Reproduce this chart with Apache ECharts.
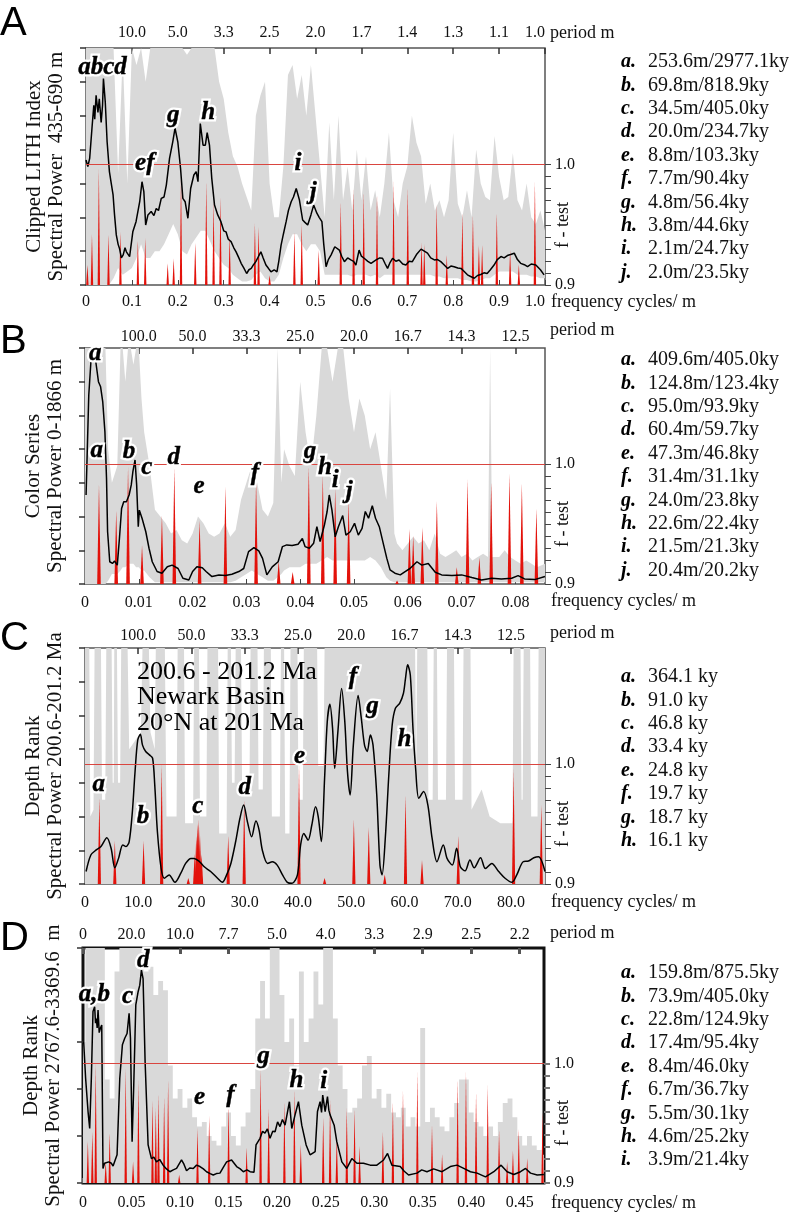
<!DOCTYPE html>
<html><head><meta charset="utf-8">
<script src="https://cdn.jsdelivr.net/npm/echarts@6/dist/echarts.min.js"></script>
<style>html,body{margin:0;padding:0;background:#fff}#c{width:799px;height:1215px}</style>
</head><body><div id="c"></div>
<script>
// ---------------- DATA ----------------
const fTestTicks = [0.90,0.91,0.92,0.93,0.94,0.95,0.96,0.97,0.98,0.99,1.00];
const fTestLabels = [0.9, 1.0];
const sigLevel = 1.0;
const powerTicks7 = [0,1,2,3,4,5,6,7];
const powerTicks5 = [0,1,2,3,4,5];

// Panel A
const freqTicksA = [0,0.1,0.2,0.3,0.4,0.5,0.6,0.7,0.8,0.9,1.0];
const freqLabelsA = ['0','0.1','0.2','0.3','0.4','0.5','0.6','0.7','0.8','0.9','1.0'];
const periodTicksA = [0.1,0.2,0.3,0.4,0.5,0.6,0.7,0.8,0.9,1.0];
const periodLabelsA = ['10.0','5.0','3.3','2.5','2.0','1.7','1.4','1.3','1.1','1.0'];
const lineA = [[0,3.69],[0.004,3.5],[0.008,3.74],[0.013,4.63],[0.017,5.31],[0.019,4.9],[0.022,5.6],[0.026,5.1],[0.029,5.5],[0.033,4.8],[0.036,5.3],[0.038,6.1],[0.042,5.4],[0.046,4.23],[0.051,3.35],[0.055,3.0],[0.059,2.66],[0.062,2.1],[0.066,1.48],[0.070,1.2],[0.073,1.08],[0.077,0.8],[0.081,0.89],[0.085,1.1],[0.088,0.98],[0.095,0.84],[0.102,1.57],[0.109,1.87],[0.117,2.46],[0.122,3.05],[0.126,2.76],[0.130,1.77],[0.135,2.07],[0.142,2.17],[0.148,2.05],[0.153,2.26],[0.158,2.2],[0.164,2.56],[0.170,2.6],[0.175,2.95],[0.182,3.74],[0.189,4.23],[0.194,4.63],[0.200,4.23],[0.206,3.44],[0.211,2.56],[0.216,2.46],[0.222,1.97],[0.228,2.85],[0.235,3.25],[0.240,3.35],[0.244,3.05],[0.249,4.77],[0.255,4.13],[0.260,4.13],[0.264,4.5],[0.269,4.13],[0.274,3.15],[0.280,2.36],[0.287,2.07],[0.294,1.87],[0.300,1.6],[0.305,1.57],[0.310,1.35],[0.316,1.28],[0.322,1.1],[0.327,0.98],[0.333,0.8],[0.338,0.64],[0.344,0.5],[0.350,0.34],[0.355,0.45],[0.360,0.49],[0.365,0.6],[0.370,0.69],[0.376,0.85],[0.381,0.98],[0.386,0.8],[0.392,0.59],[0.397,0.5],[0.403,0.39],[0.410,0.45],[0.416,0.39],[0.420,0.7],[0.425,1.18],[0.430,1.5],[0.436,1.87],[0.441,2.2],[0.447,2.46],[0.452,2.6],[0.458,2.85],[0.465,2.51],[0.472,1.92],[0.477,1.85],[0.483,1.77],[0.490,2.07],[0.496,2.36],[0.503,2.12],[0.508,2.0],[0.514,1.87],[0.518,1.2],[0.523,0.54],[0.528,0.75],[0.534,0.89],[0.542,1.13],[0.552,1.03],[0.557,0.85],[0.563,0.69],[0.570,0.8],[0.577,0.74],[0.583,0.7],[0.588,0.59],[0.595,1.03],[0.600,0.85],[0.606,0.79],[0.614,0.7],[0.621,0.64],[0.632,0.74],[0.640,0.8],[0.646,0.79],[0.652,0.62],[0.657,0.49],[0.662,0.65],[0.668,0.79],[0.675,0.7],[0.682,0.74],[0.690,0.62],[0.697,0.59],[0.704,0.7],[0.711,0.69],[0.720,0.9],[0.730,1.06],[0.737,1.0],[0.744,0.94],[0.751,0.8],[0.759,0.74],[0.766,0.75],[0.773,0.69],[0.780,0.6],[0.788,0.49],[0.795,0.56],[0.802,0.54],[0.810,0.5],[0.817,0.49],[0.824,0.4],[0.831,0.30],[0.838,0.25],[0.846,0.20],[0.853,0.28],[0.860,0.31],[0.867,0.36],[0.874,0.34],[0.881,0.45],[0.889,0.59],[0.896,0.75],[0.904,0.84],[0.911,0.8],[0.918,0.87],[0.925,0.9],[0.933,0.94],[0.940,0.75],[0.947,0.64],[0.955,0.6],[0.962,0.54],[0.970,0.62],[0.980,0.59],[0.990,0.45],[0.998,0.30]];
const bandA = [[0,0,7.5],[0.01,0,7.5],[0.02,0,7.5],[0.03,0,7.5],[0.04,0,7.5],[0.05,0,7.5],[0.06,0.2,7.5],[0.07,0.5,3.3],[0.08,0.3,6.8],[0.09,0.4,3.0],[0.10,0.5,7.0],[0.11,0.8,6.5],[0.12,1.2,7.5],[0.13,0.8,6.0],[0.14,0.8,7.5],[0.15,1.0,7.5],[0.16,1.0,7.5],[0.17,1.2,7.5],[0.18,1.5,7.5],[0.19,1.8,7.5],[0.20,1.5,7.5],[0.21,1.0,7.5],[0.22,0.9,6.8],[0.23,1.2,7.5],[0.24,1.4,7.5],[0.25,1.6,7.5],[0.26,1.6,7.5],[0.27,1.3,7.5],[0.28,1.0,7.0],[0.29,0.8,6.0],[0.30,0.6,5.5],[0.31,0.5,4.5],[0.32,0.3,3.8],[0.33,0.2,3.5],[0.34,0.1,3.0],[0.35,0.1,2.6],[0.36,0.15,2.2],[0.37,0.3,5.0],[0.38,0.4,5.6],[0.39,0.2,6.0],[0.40,0.1,3.0],[0.41,0.1,2.0],[0.42,0.3,2.0],[0.43,0.8,3.5],[0.44,1.2,6.2],[0.45,1.5,6.5],[0.46,1.5,5.5],[0.47,1.2,6.2],[0.48,1.0,5.0],[0.49,1.2,6.5],[0.50,1.2,5.0],[0.51,1.0,3.5],[0.52,0.3,2.0],[0.53,0.3,4.8],[0.54,0.3,2.5],[0.55,0.3,5.0],[0.56,0.3,2.5],[0.57,0.3,3.5],[0.58,0.25,2.2],[0.59,0.3,4.0],[0.60,0.3,2.5],[0.61,0.3,3.8],[0.62,0.25,2.2],[0.63,0.3,2.8],[0.64,0.2,2.0],[0.65,0.3,3.0],[0.66,0.3,4.5],[0.67,0.3,2.5],[0.68,0.3,2.0],[0.69,0.3,3.0],[0.70,0.3,3.5],[0.71,0.3,5.0],[0.72,0.3,4.2],[0.73,0.3,3.8],[0.74,0.3,2.4],[0.75,0.3,3.0],[0.76,0.25,2.2],[0.77,0.25,2.5],[0.78,0.2,2.0],[0.79,0.2,2.5],[0.80,0.2,4.5],[0.81,0.2,2.4],[0.82,0.15,2.0],[0.83,0.15,2.8],[0.84,0.1,2.0],[0.85,0.1,4.0],[0.86,0.15,3.0],[0.87,0.2,2.6],[0.88,0.2,2.5],[0.89,0.3,4.4],[0.90,0.4,3.2],[0.91,0.4,2.5],[0.92,0.4,2.6],[0.93,0.4,3.9],[0.94,0.3,2.5],[0.95,0.3,2.2],[0.96,0.3,3.0],[0.97,0.25,2.0],[0.98,0.25,1.8],[0.99,0.2,2.2],[1.00,0.2,1.6]];
const spikesA = [[0.003,0.917],[0.013,0.942],[0.028,0.997],[0.049,0.942],[0.075,0.944],[0.113,0.937],[0.129,0.939],[0.178,0.918],[0.191,0.922],[0.207,0.99],[0.238,0.935],[0.262,0.986],[0.278,0.970],[0.293,0.973],[0.313,0.941],[0.368,0.951],[0.376,0.948],[0.400,0.908],[0.454,0.944],[0.470,0.951],[0.507,0.929],[0.555,0.969],[0.583,0.979],[0.605,0.977],[0.634,0.975],[0.670,0.986],[0.701,0.981],[0.731,0.935],[0.737,0.934],[0.764,0.967],[0.786,0.925],[0.820,0.960],[0.843,0.958],[0.856,0.933],[0.863,0.933],[0.895,0.960],[0.924,0.929],[0.943,0.917],[0.978,0.986]];
const peaksA = [['abcd',0.036,6.41],['ef',0.128,3.6],['g',0.19,5.0],['h',0.266,5.08],['i',0.462,3.6],['j',0.495,2.72]];
const nameA = 'Clipped LITH Index\nSpectral Power  435-690 m';
const legendA = [['a.','253.6m/2977.1ky'],['b.','69.8m/818.9ky'],['c.','34.5m/405.0ky'],['d.','20.0m/234.7ky'],['e.','8.8m/103.3ky'],['f.','7.7m/90.4ky'],['g.','4.8m/56.4ky'],['h.','3.8m/44.6ky'],['i.','2.1m/24.7ky'],['j.','2.0m/23.5ky']];

// Panel B
const freqTicksB = [0,0.01,0.02,0.03,0.04,0.05,0.06,0.07,0.08];
const freqLabelsB = ['0','0.01','0.02','0.03','0.04','0.05','0.06','0.07','0.08'];
const periodTicksB = [0.01,0.02,0.03,0.04,0.05,0.06,0.07,0.08];
const periodLabelsB = ['100.0','50.0','33.3','25.0','20.0','16.7','14.3','12.5'];
const lineB = [[0.0002,2.64],[0.0007,5.6],[0.0011,6.6],[0.0015,6.64],[0.002,6.6],[0.0025,6.0],[0.0029,5.85],[0.0033,5.4],[0.0037,4.52],[0.004,3.13],[0.0042,1.55],[0.0046,0.66],[0.0051,0.61],[0.0055,0.68],[0.006,0.56],[0.0064,1.35],[0.0068,2.24],[0.0072,2.44],[0.0077,2.44],[0.0082,2.64],[0.0086,2.94],[0.0089,3.33],[0.0093,3.68],[0.0096,2.94],[0.0099,1.70],[0.0101,2.19],[0.0106,1.95],[0.0113,1.55],[0.0119,1.06],[0.0125,0.66],[0.0134,0.37],[0.0143,0.32],[0.0153,0.51],[0.0162,0.56],[0.0173,0.46],[0.0182,0.17],[0.0193,0.12],[0.0200,0.37],[0.0208,0.51],[0.0218,0.48],[0.0225,0.37],[0.0236,0.22],[0.0249,0.27],[0.0261,0.25],[0.0273,0.29],[0.0286,0.37],[0.0295,0.46],[0.0304,0.96],[0.0314,1.08],[0.0323,0.98],[0.0330,0.76],[0.0338,0.27],[0.0348,0.51],[0.0359,0.66],[0.0367,1.11],[0.0375,1.16],[0.0385,1.14],[0.0396,1.18],[0.0404,1.35],[0.0409,1.11],[0.0417,1.06],[0.0425,1.21],[0.0431,1.70],[0.0437,1.26],[0.0445,1.75],[0.0450,2.15],[0.0454,2.64],[0.0459,2.19],[0.0465,1.40],[0.0471,1.70],[0.0479,2.03],[0.0485,1.45],[0.0493,1.55],[0.0501,1.80],[0.0508,1.45],[0.0515,1.65],[0.0521,2.15],[0.0527,1.95],[0.0534,2.32],[0.0540,1.95],[0.0547,1.70],[0.0555,1.16],[0.0561,0.76],[0.0567,0.42],[0.0576,0.32],[0.0586,0.27],[0.0595,0.37],[0.0604,0.46],[0.0617,0.66],[0.0626,0.56],[0.0638,0.61],[0.0651,0.35],[0.0663,0.27],[0.0682,0.25],[0.0700,0.27],[0.0719,0.19],[0.0737,0.12],[0.0756,0.17],[0.0774,0.15],[0.0793,0.17],[0.0805,0.25],[0.0817,0.15],[0.0836,0.13],[0.0855,0.22]];
const bandB = [[0,0,7.5],[0.001,0,7.5],[0.002,0,7.5],[0.003,0,7.5],[0.0038,0,7.5],[0.0043,0.1,4.0],[0.005,0.3,3.0],[0.006,0.3,3.5],[0.0066,0.4,7.5],[0.007,0.5,7.5],[0.0075,0.5,6.0],[0.008,0.6,7.5],[0.0085,0.6,7.5],[0.009,0.6,6.5],[0.0095,0.5,7.5],[0.0100,0.5,7.5],[0.0105,0.4,5.5],[0.011,0.4,4.5],[0.012,0.2,3.5],[0.013,0.05,2.2],[0.014,0.05,2.0],[0.015,0.05,1.8],[0.016,0.05,1.5],[0.017,0.05,1.6],[0.018,0.05,1.3],[0.019,0.05,1.2],[0.020,0.05,1.5],[0.021,0.05,2.0],[0.022,0.05,1.8],[0.023,0.05,1.5],[0.024,0.05,1.4],[0.025,0.05,1.5],[0.026,0.05,1.8],[0.027,0.05,1.4],[0.028,0.1,1.6],[0.029,0.2,2.5],[0.030,0.3,3.0],[0.031,0.4,3.5],[0.032,0.3,3.0],[0.033,0.2,2.2],[0.034,0.1,2.0],[0.035,0.1,2.4],[0.0358,0.2,7.5],[0.0365,0.3,3.0],[0.037,0.4,4.0],[0.038,0.5,3.5],[0.039,0.5,3.2],[0.040,0.5,6.0],[0.041,0.6,4.5],[0.042,0.6,3.5],[0.043,0.6,5.0],[0.044,0.7,7.5],[0.045,0.8,7.5],[0.046,0.7,6.0],[0.047,0.7,7.5],[0.048,0.7,7.5],[0.049,0.7,5.5],[0.050,0.7,4.5],[0.051,0.7,5.5],[0.052,0.7,5.0],[0.053,0.8,4.0],[0.054,0.7,4.5],[0.055,0.5,3.5],[0.056,0.2,2.5],[0.0567,0.1,5.8],[0.0575,0.05,1.5],[0.058,0.05,1.2],[0.059,0.05,1.0],[0.060,0.05,1.2],[0.061,0.05,1.4],[0.062,0.05,1.2],[0.063,0.05,1.3],[0.064,0.05,1.0],[0.065,0.05,1.5],[0.066,0.05,0.9],[0.067,0.05,0.8],[0.068,0.05,0.9],[0.069,0.05,1.0],[0.070,0.05,0.8],[0.071,0.05,0.9],[0.072,0.05,0.7],[0.073,0.05,0.8],[0.074,0.05,0.9],[0.0749,0.05,0.8],[0.0753,0.05,7.5],[0.0757,0.05,0.8],[0.077,0.05,0.8],[0.078,0.05,1.0],[0.079,0.05,0.8],[0.080,0.05,0.7],[0.081,0.05,0.6],[0.082,0.05,0.7],[0.083,0.05,0.6],[0.084,0.05,0.5],[0.0855,0.05,0.6]];
const spikesB = [[0.0026,0.983],[0.0058,0.961],[0.0080,0.998],[0.0106,0.932],[0.0143,0.957],[0.0166,0.997],[0.0213,0.953],[0.0261,0.981],[0.0318,0.986],[0.0360,0.919],[0.0386,0.910],[0.0416,0.998],[0.0442,0.991],[0.0465,0.980],[0.0490,0.970],[0.058,0.903],[0.0603,0.946],[0.0610,0.940],[0.0627,0.947],[0.0654,0.969],[0.0691,0.914],[0.0711,0.987],[0.0733,0.922],[0.0755,0.985],[0.0789,0.992],[0.0812,0.984],[0.0839,0.963]];
const peaksB = [['a',0.0019,6.85],['a',0.0022,3.97],['b',0.0082,3.92],['c',0.0115,3.44],['d',0.0165,3.74],['e',0.0212,2.88],['f',0.0316,3.29],['g',0.0418,3.92],['h',0.0446,3.44],['i',0.0465,3.08],['j',0.0491,2.73]];
const nameB = 'Color Series\nSpectral Power 0-1866 m';
const legendB = [['a.','409.6m/405.0ky'],['b.','124.8m/123.4ky'],['c.','95.0m/93.9ky'],['d.','60.4m/59.7ky'],['e.','47.3m/46.8ky'],['f.','31.4m/31.1ky'],['g.','24.0m/23.8ky'],['h.','22.6m/22.4ky'],['i.','21.5m/21.3ky'],['j.','20.4m/20.2ky']];

// Panel C
const freqTicksC = [0,10,20,30,40,50,60,70,80];
const freqLabelsC = ['0','10.0','20.0','30.0','40.0','50.0','60.0','70.0','80.0'];
const periodTicksC = [10,20,30,40,50,60,70,80];
const periodLabelsC = ['100.0','50.0','33.3','25.0','20.0','16.7','14.3','12.5'];
const lineC = [[0.2,0.37],[1.1,0.86],[2.1,1.01],[3.0,1.11],[4.1,1.37],[4.9,1.06],[5.6,0.48],[6.3,0.76],[7.1,1.16],[7.7,1.11],[8.3,1.26],[8.9,2.15],[9.4,3.33],[9.9,4.27],[10.4,4.44],[10.8,4.12],[11.4,3.93],[12.1,3.83],[12.7,3.73],[13.1,2.94],[13.6,1.55],[14.3,0.46],[14.9,0.17],[15.8,0.27],[16.9,0.05],[18.0,0.32],[18.9,0.61],[19.9,0.76],[20.5,0.76],[21.4,0.68],[22.4,0.51],[23.6,0.37],[24.9,0.17],[25.8,0.05],[26.6,0.27],[27.4,0.61],[28.3,1.26],[29.1,1.95],[29.8,2.34],[30.5,1.85],[31.3,1.40],[32.1,1.87],[32.7,1.60],[33.3,1.01],[34.3,0.61],[35.2,0.66],[36.1,0.56],[37.1,0.27],[38.0,0.05],[38.9,0.02],[39.9,0.27],[40.5,1.16],[41.1,1.50],[41.9,1.30],[42.6,1.75],[43.3,2.29],[43.8,2.00],[44.4,1.26],[45.0,3.13],[45.5,4.81],[46.0,5.33],[46.5,4.62],[46.9,3.43],[47.5,4.52],[48.2,5.80],[48.8,4.81],[49.3,3.33],[49.8,2.64],[50.4,4.12],[51.3,5.59],[51.9,4.91],[52.5,4.12],[53.0,3.93],[53.6,4.42],[54.1,4.12],[54.8,2.64],[55.4,0.56],[55.8,0.27],[56.4,1.35],[57.1,3.33],[57.7,4.72],[58.3,5.21],[59.1,5.36],[59.8,5.65],[60.2,6.10],[60.6,6.50],[61.1,6.20],[61.6,4.62],[62.1,3.43],[62.7,2.54],[63.6,2.74],[64.4,2.34],[65.2,1.35],[66.1,0.66],[67.3,1.16],[68.0,0.76],[69.0,0.56],[69.8,1.06],[70.5,0.51],[71.4,0.39],[72.3,0.71],[73.1,0.48],[74.3,0.78],[75.2,0.46],[76.4,0.61],[77.7,0.37],[78.9,0.17],[80.2,0.05],[81.1,0.27],[82.3,0.66],[83.3,0.68],[84.3,0.78],[85.2,0.81],[86.4,0.37]];
const bandC = [[0,0,7.5],[0.8,0,7.5],[1.0,0,2.0],[1.6,0,2.2],[1.8,0,7.5],[3.0,0,7.5],[3.2,0,2.5],[3.8,0,2.5],[4.0,0,7.5],[5.0,0,7.5],[5.2,0,3.0],[5.4,0,3.0],[5.5,0,7.5],[6.0,0,7.5],[6.2,0,3.0],[6.6,0,3.0],[6.8,0,7.5],[8.0,0,7.5],[8.3,0,4.0],[10.5,0,4.5],[10.8,0,7.5],[12.0,0,7.5],[12.3,0,4.5],[13.1,0,4.0],[13.3,0,7.5],[15.0,0,7.5],[15.3,0,2.0],[17.2,0,2.0],[17.4,0,7.5],[18.6,0,7.5],[18.8,0,1.8],[20.3,0,1.8],[20.5,0,7.5],[21.4,0,7.5],[21.6,0,2.0],[22.8,0,2.0],[23.0,0,7.5],[25.0,0,7.5],[25.2,0,1.5],[26.6,0,1.5],[26.8,0,7.5],[27.4,0,7.5],[27.6,0,3.0],[28.1,0,3.0],[28.3,0,7.5],[29.3,0,7.5],[29.5,0,3.0],[30.9,0,3.0],[31.1,0,7.5],[32.4,0,7.5],[32.6,0,2.8],[33.4,0,2.8],[33.6,0,7.5],[34.9,0,7.5],[35.1,0,2.0],[36.6,0,2.0],[36.8,0,7.5],[37.4,0,7.5],[37.6,0,1.5],[38.4,0,1.5],[38.6,0,7.5],[39.9,0,7.5],[40.1,0,2.5],[40.9,0,2.5],[41.1,0,7.5],[43.6,0,7.5],[43.8,0,3.5],[44.8,0,3.5],[45.0,0,7.5],[62.0,0,7.5],[62.2,0,3.0],[62.4,0,7.5],[64.3,0,7.5],[64.5,0,2.5],[65.3,0,2.5],[65.5,0,7.5],[66.1,0,7.5],[66.3,0,2.5],[67.8,0,2.5],[68.0,0,7.5],[69.3,0,7.5],[69.5,0,2.5],[70.9,0,2.5],[71.1,0,7.5],[72.4,0,7.5],[72.6,0,2.2],[74.5,0,2.8],[76,0,2.0],[78,0,1.8],[80.3,0,1.8],[80.5,0,7.5],[81.8,0,7.5],[82.0,0,2.5],[82.2,0,2.5],[82.4,0,7.5],[83.6,0,7.5],[83.8,0,2.0],[85.0,0,2.0],[85.2,0,7.5],[86.4,0,7.5]];
const spikesC = [[2.7,0.972],[5.6,0.936],[11.0,0.936],[14.4,1.0],[19.4,0.905],[20.6,0.925],[20.9,0.94],[21.1,0.95],[21.25,0.954],[21.4,0.95],[21.6,0.94],[21.9,0.925],[26.9,0.940],[29.9,0.970],[40.2,0.999],[45.0,0.905],[50.5,0.954],[53.3,0.947],[56.3,0.908],[60.2,0.974],[63.3,0.920],[70.1,0.940],[80.5,0.996],[85.7,0.966]];
const peaksC = [['a',2.6,2.94],['b',10.9,1.99],['c',21.2,2.31],['d',30.0,2.85],['e',40.3,3.77],['f',50.3,6.11],['g',54.0,5.25],['h',60.0,4.27]];
const nameC = 'Depth Rank\nSpectral Power 200.6-201.2 Ma';
const noteC = '200.6 - 201.2 Ma\nNewark Basin\n20°N at 201 Ma';
const legendC = [['a.','364.1 ky'],['b.','91.0 ky'],['c.','46.8 ky'],['d.','33.4 ky'],['e.','24.8 ky'],['f.','19.7 ky'],['g.','18.7 ky'],['h.','16.1 ky']];

// Panel D
const freqTicksD = [0,0.05,0.10,0.15,0.20,0.25,0.30,0.35,0.40,0.45];
const freqLabelsD = ['0','0.05','0.10','0.15','0.20','0.25','0.30','0.35','0.40','0.45'];
const periodTicksD = [0,0.05,0.10,0.15,0.20,0.25,0.30,0.35,0.40,0.45];
const periodLabelsD = ['0','20.0','10.0','7.7','5.0','4.0','3.3','2.9','2.5','2.2'];
const lineD = [[0.0007,3.0],[0.0027,2.23],[0.0052,1.52],[0.0069,1.16],[0.0086,2.23],[0.0103,3.65],[0.012,3.75],[0.0129,3.4],[0.0138,3.50],[0.0146,3.3],[0.0155,3.68],[0.0167,3.2],[0.0179,3.29],[0.0193,3.36],[0.0206,0.31],[0.0222,0.42],[0.0241,0.38],[0.0265,0.45],[0.0292,0.42],[0.031,0.36],[0.0327,0.38],[0.0351,0.60],[0.0379,2.23],[0.0406,2.94],[0.043,3.08],[0.0454,3.18],[0.0475,3.61],[0.0489,3.08],[0.0506,0.88],[0.0523,2.09],[0.0544,3.79],[0.0568,4.07],[0.0585,4.21],[0.0602,4.53],[0.0619,4.35],[0.064,2.58],[0.0671,0.81],[0.0705,0.52],[0.073,0.55],[0.0757,0.45],[0.079,0.5],[0.0826,0.38],[0.086,0.3],[0.0895,0.24],[0.093,0.28],[0.0964,0.31],[0.1015,0.49],[0.104,0.4],[0.1067,0.26],[0.110,0.32],[0.1136,0.31],[0.117,0.38],[0.1205,0.35],[0.124,0.3],[0.1273,0.24],[0.131,0.2],[0.1342,0.17],[0.1375,0.2],[0.1411,0.21],[0.145,0.35],[0.148,0.45],[0.1531,0.49],[0.1583,0.35],[0.162,0.3],[0.1652,0.24],[0.169,0.28],[0.1721,0.24],[0.1762,0.23],[0.1783,0.81],[0.1824,0.95],[0.185,1.1],[0.1875,1.06],[0.190,1.15],[0.1927,0.95],[0.1955,1.1],[0.1979,1.09],[0.2005,1.3],[0.203,1.20],[0.2055,1.35],[0.2082,1.23],[0.2127,1.73],[0.2151,1.16],[0.2185,1.45],[0.222,1.73],[0.2254,1.23],[0.2299,0.81],[0.234,0.60],[0.2392,0.67],[0.2416,1.52],[0.2443,1.73],[0.2458,1.5],[0.247,1.87],[0.2495,1.52],[0.2519,1.84],[0.2533,1.55],[0.2546,1.45],[0.2588,1.23],[0.2615,0.88],[0.2667,0.45],[0.2718,0.31],[0.277,0.52],[0.2822,0.42],[0.289,0.42],[0.2959,0.38],[0.3028,0.38],[0.3097,0.49],[0.3138,0.63],[0.3183,0.38],[0.3269,0.35],[0.331,0.25],[0.3355,0.17],[0.3441,0.21],[0.349,0.28],[0.3544,0.24],[0.3613,0.30],[0.3699,0.24],[0.3785,0.35],[0.3854,0.38],[0.3923,0.31],[0.3992,0.24],[0.4061,0.21],[0.4147,0.13],[0.4233,0.24],[0.4308,0.38],[0.437,0.24],[0.4439,0.18],[0.4508,0.24],[0.456,0.31],[0.4611,0.21],[0.468,0.17],[0.4749,0.18]];
const bandD = [[0.000,0,3.0],[0.005,0,7],[0.010,0,7],[0.015,0,7],[0.020,0,7],[0.025,0,2.2],[0.030,0,1.8],[0.035,0,4.5],[0.040,0,7],[0.045,0,7],[0.050,0,7],[0.055,0,7],[0.060,0,7],[0.065,0,4.5],[0.070,0,4.6],[0.075,0,4.0],[0.080,0,4.3],[0.085,0,4.1],[0.090,0,2.5],[0.095,0,1.8],[0.100,0,2.0],[0.105,0,1.6],[0.110,0,1.8],[0.115,0,1.4],[0.120,0,1.2],[0.125,0,1.3],[0.130,0,1.0],[0.135,0,0.9],[0.140,0,0.8],[0.145,0,1.2],[0.150,0,1.5],[0.155,0,1.0],[0.160,0,0.8],[0.165,0,1.2],[0.170,0,1.5],[0.175,0,2.0],[0.180,0,3.5],[0.185,0,4.3],[0.190,0,3.5],[0.195,0,7],[0.200,0,7],[0.205,0,4.0],[0.210,0,3.0],[0.215,0,3.5],[0.220,0,2.5],[0.225,0,4.5],[0.230,0,3.0],[0.235,0,3.5],[0.240,0,4.5],[0.245,0,3.8],[0.250,0,7],[0.255,0,7],[0.260,0,3.5],[0.265,0,2.5],[0.270,0,2.0],[0.275,0,1.5],[0.280,0,1.6],[0.285,0,1.8],[0.290,0,2.5],[0.295,0,2.7],[0.300,0,1.8],[0.305,0,2.0],[0.310,0,1.6],[0.315,0,1.9],[0.320,0,1.5],[0.325,0,1.4],[0.330,0,1.6],[0.335,0,1.2],[0.340,0,1.4],[0.345,0,1.2],[0.350,0,3.3],[0.355,0,1.3],[0.360,0,1.6],[0.365,0,1.4],[0.370,0,1.2],[0.375,0,1.1],[0.380,0,1.4],[0.385,0,1.7],[0.390,0,2.2],[0.395,0,2.2],[0.400,0,1.5],[0.405,0,1.3],[0.410,0,1.2],[0.415,0,1.0],[0.420,0,1.2],[0.425,0,1.0],[0.430,0,1.3],[0.435,0,1.7],[0.440,0,1.8],[0.445,0,1.4],[0.450,0,1.0],[0.455,0,0.8],[0.460,0,1.0],[0.465,0,0.8],[0.470,0,0.7],[0.475,0,0.6]];
const spikesD = [[0.005,0.935],[0.0096,0.943],[0.0131,1.0],[0.0234,0.918],[0.0275,0.942],[0.044,0.996],[0.0516,0.918],[0.0571,0.986],[0.0716,0.969],[0.075,0.963],[0.0778,0.975],[0.0836,0.972],[0.0877,0.986],[0.0991,0.907],[0.118,0.946],[0.130,0.956],[0.150,0.967],[0.1686,0.930],[0.183,0.996],[0.1913,0.962],[0.2075,0.968],[0.2178,0.978],[0.2244,0.932],[0.2475,0.955],[0.2546,0.969],[0.2615,0.938],[0.2718,0.963],[0.2798,0.962],[0.285,0.931],[0.309,0.943],[0.3193,0.968],[0.3297,0.977],[0.3445,0.993],[0.3596,0.949],[0.370,0.924],[0.386,0.987],[0.3946,0.993],[0.405,0.976],[0.417,0.982],[0.4287,0.944],[0.437,0.918],[0.443,0.927],[0.449,0.945],[0.4577,0.921],[0.4735,0.959]];
const peaksD = [['a,b',0.0116,4.0],['c',0.046,3.96],['d',0.062,4.74],['e',0.12,1.81],['f',0.152,1.87],['g',0.186,2.68],['h',0.22,2.19],['i',0.248,2.15]];
const nameD = 'Depth Rank\nSpectral Power 2767.6-3369.6  m';
const legendD = [['a.','159.8m/875.5ky'],['b.','73.9m/405.0ky'],['c.','22.8m/124.9ky'],['d.','17.4m/95.4ky'],['e.','8.4m/46.0ky'],['f.','6.7m/36.7ky'],['g.','5.5m/30.1ky'],['h.','4.6m/25.2ky'],['i.','3.9m/21.4ky']];

// ---------------- LAYOUT / STYLE ----------------
const SERIF = '"Liberation Serif", "Times New Roman", serif';
const FTEST_MIN = 0.9, FTEST_MAX = 1.0967;
const panels = [
  {letter:'A', line:lineA, band:bandA, spikes:spikesA, peaks:peaksA, legend:legendA, name:nameA,
   fT:freqTicksA, fL:freqLabelsA, pT:periodTicksA, pL:periodLabelsA, yT:powerTicks7,
   xMax:1.0, yMax:7, grid:{left:86, top:48, width:459, height:237}, step:false, smooth:false,
   hw:1.2, frame:'#555', frameW:1.5, botM:9, topM:7, legY:62, letY:24, perY:33, freqY:302, alignMax:'right'},
  {letter:'B', line:lineB, band:bandB, spikes:spikesB, peaks:peaksB, legend:legendB, name:nameB,
   fT:freqTicksB, fL:freqLabelsB, pT:periodTicksB, pL:periodLabelsB, yT:powerTicks7,
   xMax:0.0855, yMax:7, grid:{left:85, top:348, width:460, height:236}, step:false, smooth:false,
   hw:1.8, frame:'#555', frameW:1.5, botM:11, topM:3, legY:360, letY:342, perY:330, freqY:601, alignMax:null},
  {letter:'C', line:lineC, band:bandC, spikes:spikesC, peaks:peaksC, legend:legendC, name:nameC,
   fT:freqTicksC, fL:freqLabelsC, pT:periodTicksC, pL:periodLabelsC, yT:powerTicks7,
   xMax:86.4, yMax:7, grid:{left:85, top:648, width:460, height:236}, step:false, smooth:0.3,
   hw:1.6, frame:'#555', frameW:1.5, botM:11, topM:4, legY:677, letY:639, perY:633, freqY:902, alignMax:null},
  {letter:'D', line:lineD, band:bandD, spikes:spikesD, peaks:peaksD, legend:legendD, name:nameD,
   fT:freqTicksD, fL:freqLabelsD, pT:periodTicksD, pL:periodLabelsD, yT:powerTicks5,
   xMax:0.475, yMax:5, grid:{left:83, top:948, width:461, height:235}, step:true, smooth:false,
   hw:1.2, frame:'#111', frameW:3, botM:12, topM:5, legY:973, letY:939, perY:933, freqY:1203, alignMax:null}
];

function lookup(ticks, labels){
  return function(v){
    let best = 0, bd = Infinity;
    ticks.forEach((t,i)=>{const d=Math.abs(t-v); if(d<bd){bd=d;best=i;}});
    return labels[best];
  };
}
function spikeRenderer(hw){
  return function(params, api){
    const f = api.value(0), v = api.value(1);
    const b = api.coord([f, FTEST_MIN]);
    const t = api.coord([f, v]);
    return {type:'polygon', shape:{points:[[b[0]-hw,b[1]],[t[0],t[1]],[b[0]+hw,b[1]]]},
            style:{fill:'#e3120b'}};
  };
}
function bandRenderer(band, step, yMax){
  return function(params, api){
    const up = [], lo = [], n = band.length;
    for (let i=0;i<n;i++){
      const hi = Math.min(band[i][2], yMax), l = band[i][1];
      if (step){
        const x0 = i===0 ? band[0][0] : (band[i-1][0]+band[i][0])/2;
        const x1 = i===n-1 ? band[n-1][0] : (band[i][0]+band[i+1][0])/2;
        up.push(api.coord([x0,hi]), api.coord([x1,hi]));
        lo.push(api.coord([x0,l]), api.coord([x1,l]));
      } else {
        up.push(api.coord([band[i][0],hi]));
        lo.push(api.coord([band[i][0],l]));
      }
    }
    return {type:'polygon', shape:{points:up.concat(lo.reverse())}, style:{fill:'#d9d9d9'}};
  };
}
function peakRenderer(peaks){
  const fontProps = {fontFamily:'"Liberation Serif"', fontSize:25, fontStyle:'italic', fontWeight:'bold'};
  return function(params, api){
    const p = api.coord([api.value(0), api.value(1)]);
    const txt = peaks[params.dataIndex][0];
    return {type:'group', children:[
      {type:'text', x:p[0], y:p[1], style:Object.assign({text:txt, fill:'#fff', stroke:'#fff', lineWidth:5, lineJoin:'round', align:'center', verticalAlign:'middle'}, fontProps)},
      {type:'text', x:p[0], y:p[1], style:Object.assign({text:txt, fill:'#000', stroke:'#000', lineWidth:0.4, align:'center', verticalAlign:'middle'}, fontProps)}
    ]};
  };
}

const grids=[], xAxes=[], yAxes=[], series=[], graphics=[];
panels.forEach((P,k)=>{
  grids.push(Object.assign({show:true, borderColor:P.frame, borderWidth:P.frameW, backgroundColor:'transparent'}, P.grid));
  const tickColor = k===3 ? '#666' : '#444';
  const botLabel = {customValues:P.fT, formatter:lookup(P.fT,P.fL), margin:P.botM, color:'#111', fontFamily:SERIF, fontSize:16};
  const topLabel = {customValues:P.pT, formatter:lookup(P.pT,P.pL), margin:P.topM, color:'#111', fontFamily:SERIF, fontSize:16};
  if (P.alignMax){ botLabel.alignMaxLabel = P.alignMax; topLabel.alignMaxLabel = P.alignMax; }
  xAxes.push({type:'value', gridIndex:k, position:'bottom', min:0, max:P.xMax,
    axisLine:{show:false, onZero:false}, splitLine:{show:false},
    axisTick:{show:true, inside:true, length:5, customValues:P.fT, lineStyle:{color:tickColor, width:k===3?2:1}},
    axisLabel:botLabel});
  xAxes.push({type:'value', gridIndex:k, position:'top', min:0, max:P.xMax,
    axisLine:{show:false, onZero:false}, splitLine:{show:false},
    axisTick:{show:true, inside:true, length:6, customValues:P.pT, lineStyle:{color:k===3?'#555':'#333', width:k===3?3:1.5}},
    axisLabel:topLabel});
  yAxes.push({type:'value', gridIndex:k, position:'left', min:0, max:P.yMax,
    axisLine:{show:false, onZero:false}, splitLine:{show:false},
    axisTick:{show:true, inside:false, length:6, customValues:P.yT, lineStyle:{color:'#333', width:1.5}},
    axisLabel:{show:false},
    name:P.name, nameLocation:'middle', nameGap:19,
    nameTextStyle:{fontFamily:SERIF, fontSize:21, lineHeight:22, color:'#111'}});
  yAxes.push({type:'value', gridIndex:k, position:'right', min:FTEST_MIN, max:FTEST_MAX,
    axisLine:{show:false, onZero:false}, splitLine:{show:false},
    axisTick:{show:true, inside:false, length:6, customValues:fTestTicks, lineStyle:{color:k===3?'#777':'#444', width:k===3?2:1}},
    axisLabel:{customValues:fTestLabels, formatter:v=>v.toFixed(1), margin:10, color:'#111', fontFamily:SERIF, fontSize:16}});

  const xi = 2*k, yl = 2*k, yr = 2*k+1;
  series.push({type:'custom', xAxisIndex:xi, yAxisIndex:yl, data:[[0,0]], encode:{x:0,y:1},
    renderItem:bandRenderer(P.band, P.step, P.yMax), silent:true, z:1});
  series.push({type:'custom', xAxisIndex:xi, yAxisIndex:yr, data:P.spikes, encode:{x:0,y:1},
    renderItem:spikeRenderer(P.hw), silent:true, z:2,
    markLine:{silent:true, symbol:'none', label:{show:false}, lineStyle:{color:'#d9453f', width:1, type:'solid'},
      data:[{yAxis:sigLevel}], animation:false}});
  series.push({type:'line', xAxisIndex:xi, yAxisIndex:yl, data:P.line, showSymbol:false, symbol:'none',
    smooth:P.smooth, lineStyle:{color:'#000', width:1.5}, silent:true, z:4});
  series.push({type:'custom', xAxisIndex:xi, yAxisIndex:yl, silent:true, z:6, encode:{x:0,y:1},
    data:P.peaks.map(p=>[p[1],p[2]]), renderItem:peakRenderer(P.peaks)});

  graphics.push({type:'text', x:0, y:P.letY, style:{text:P.letter, font:'40px "Liberation Sans", Arial, sans-serif', fill:'#000', textVerticalAlign:'middle'}});
  graphics.push({type:'text', x:550, y:P.perY, style:{text:'period m', font:'18px '+SERIF, fill:'#111', textVerticalAlign:'middle'}});
  graphics.push({type:'text', x:551, y:P.freqY, style:{text:'frequency cycles/ m', font:'18px '+SERIF, fill:'#111', textVerticalAlign:'middle'}});
  const g = P.grid;
  graphics.push({type:'text', x:563, y:g.top+g.height-60, rotation:Math.PI/2,
    style:{text:'f - test', font:'18px '+SERIF, fill:'#111', textAlign:'center', textVerticalAlign:'middle'}});
  P.legend.forEach((r,i)=>{
    const y = P.legY + i*23.4;
    graphics.push({type:'text', x:621, y:y, style:{text:r[0], font:'italic bold 20px '+SERIF, fill:'#000', textVerticalAlign:'middle'}});
    graphics.push({type:'text', x:648, y:y, style:{text:r[1], font:'20px '+SERIF, fill:'#111', textVerticalAlign:'middle'}});
  });
});
graphics.push({type:'text', x:137, y:659, z:10, style:{text:noteC, font:'26px '+SERIF, lineHeight:25.5, fill:'#000', textVerticalAlign:'top'}});

const chart = echarts.init(document.getElementById('c'), null, {renderer:'canvas'});
chart.setOption({animation:false, backgroundColor:'#fff', grid:grids, xAxis:xAxes, yAxis:yAxes, series:series, graphic:graphics});
</script>
</body></html>
